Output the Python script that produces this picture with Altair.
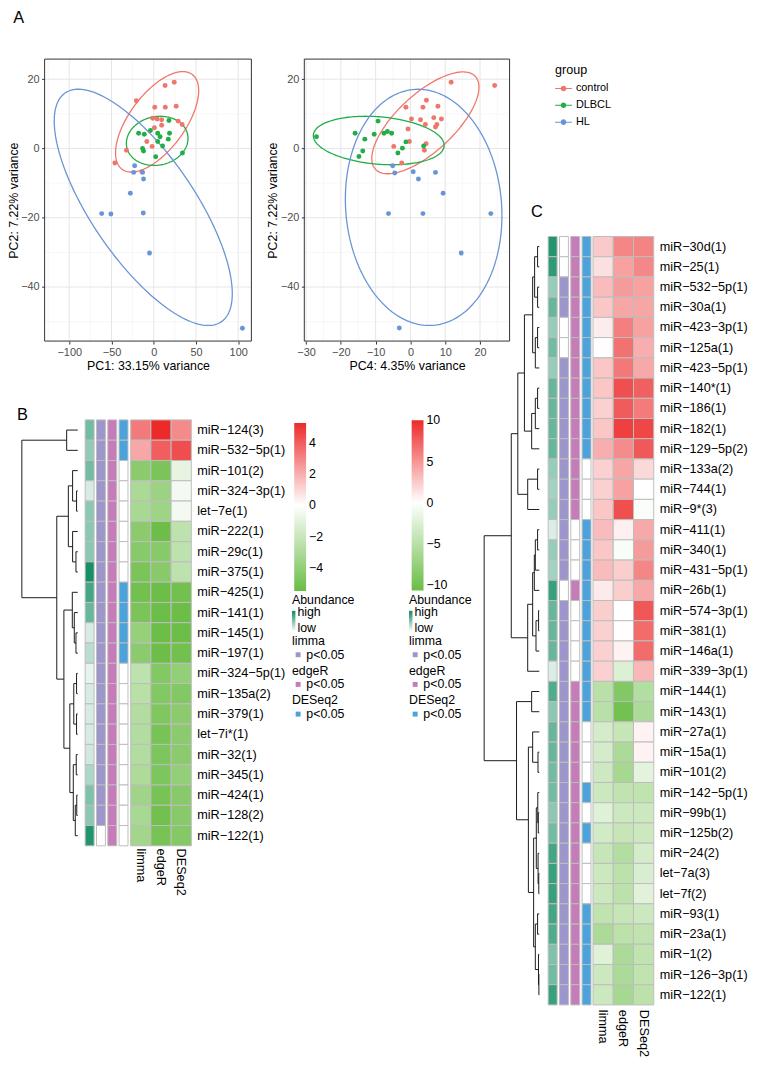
import altair as alt
import numpy as np
import pandas as pd

FONT = "Liberation Sans"
W, H = 750, 1050

# ----------------------------------------------------------------- Panel A data
groups = ["control", "DLBCL", "HL"]
group_colors = ["#F0766C", "#22AE47", "#6B94D6"]

# PC1 / PC2
control_pc1 = [24.3, 13.4, -20.6, 1.2, 13.7, 26.6, -1.2, 4.0, 9.4, 28.9, 33.6, 9.4, 0.8, -8.2, -1.9, -32.3, -46.0, -14.0]
control_pc2 = [19.1, 18.2, 13.8, 11.9, 11.9, 12.2, 8.7, 8.5, 8.3, 7.9, 6.9, 6.7, 6.0, 2.0, 0.6, -0.5, -4.2, -6.7]
dlbcl_pc1 = [18.0, -3.9, -17.9, -11.2, 4.7, 7.5, 18.7, 17.2, 4.7, 10.5, -13.2, -12.1, 34.0, 2.3]
dlbcl_pc2 = [8.1, 5.2, 4.4, 4.1, 4.4, 3.4, 4.4, 2.7, 2.0, 0.7, 0.0, -0.7, -1.3, -2.4]
hl_pc1 = [-22.6, -23.8, -13.2, -12.1, -27.7, -61.6, -50.7, -12.4, -5.0, 105.0]
hl_pc2 = [-5.0, -6.9, -6.9, -8.8, -12.9, -18.8, -18.9, -18.6, -30.2, -51.9]

# PC4 / PC2
control_pc4 = [11.7, 24.2, 4.6, -1.3, 3.6, 7.9, 6.7, 0.3, 2.9, 8.9, 4.3, 7.6, 7.2, -0.7, -0.3, 4.5, -4.8, 4.0, -2.5]
control_pc2b = [19.1, 18.2, 13.9, 11.9, 11.9, 12.2, 8.9, 8.5, 8.3, 8.5, 6.9, 6.9, 6.2, 5.6, 2.0, 1.4, 0.6, -0.5, -4.2]
dlbcl_pc4 = [-27.0, -15.9, -13.1, -13.7, -14.8, -9.3, -10.4, -7.6, -6.6, -5.4, -1.3, -2.3, -3.6, 3.8]
dlbcl_pc2b = [3.4, 4.4, 2.7, -0.7, -2.3, 7.9, 4.1, 4.4, 4.9, 4.4, 1.9, 0.1, -1.3, 0.7]
hl_pc4 = [-5.1, -4.5, 0.8, 2.3, 7.2, 9.4, -6.3, 3.6, 23.1, 14.6, -3.2]
hl_pc2b = [-5.0, -7.1, -6.7, -8.8, -6.9, -12.9, -18.8, -18.8, -18.8, -30.2, -51.8]

# confidence ellipses: centre x, centre y, half-extent x, half-extent y, correlation
ellipse_pc1 = {"control": [4.0, 7.7, 49.2, 14.5, 0.62],
               "DLBCL": [4.1, 2.2, 36.5, 7.1, 0.10],
               "HL": [-12.4, -17.0, 105.4, 34.1, -0.73]}
ellipse_pc4 = {"control": [4.3, 7.4, 15.4, 14.7, 0.70],
               "DLBCL": [-9.1, 2.3, 18.8, 7.0, -0.20],
               "HL": [3.8, -17.0, 22.5, 34.1, -0.07]}

pc1_major = [-100, -50, 0, 50, 100]
pc1_minor = [-125, -75, -25, 25, 75]
pc4_major = [-30, -20, -10, 0, 10, 20]
pc4_minor = [-25, -15, -5, 5, 15, 25]
pc2_major = [-40, -20, 0, 20]
pc2_minor = [-50, -30, -10, 10]

# ----------------------------------------------------------------- Panel B data
B_labels = ["miR−124(3)", "miR−532−5p(1)", "miR−101(2)", "miR−324−3p(1)", "let−7e(1)", "miR−222(1)",
            "miR−29c(1)", "miR−375(1)", "miR−425(1)", "miR−141(1)", "miR−145(1)", "miR−197(1)",
            "miR−324−5p(1)", "miR−135a(2)", "miR−379(1)", "let−7i*(1)", "miR−32(1)", "miR−345(1)",
            "miR−424(1)", "miR−128(2)", "miR−122(1)"]
B_abund = [0.55, 0.42, 0.55, 0.12, 0.45, 0.45, 0.45, 0.95, 0.75, 0.60, 0.12, 0.25, 0.05, 0.12, 0.12,
           0.12, 0.15, 0.30, 0.50, 0.45, 0.90]
B_limma_sig = [1] * 20 + [0]
B_edger_sig = [1] * 21
B_deseq_sig = [1, 1, 0, 0, 0, 0, 0, 0, 1, 1, 1, 1, 0, 0, 0, 0, 0, 0, 0, 0, 0]
B_limma = [3.3, 2.2, -4.3, -3.1, -3.2, -4.3, -4.4, -4.9, -5.2, -4.9, -3.9, -4.3, -2.4, -2.6, -2.8, -2.8,
           -2.8, -3.0, -3.5, -3.2, -3.4]
B_edger = [5.3, 4.0, -4.9, -3.7, -3.6, -5.4, -4.4, -4.4, -5.4, -5.4, -5.4, -5.4, -4.6, -4.6, -4.7, -5.0,
           -4.8, -4.8, -5.0, -5.2, -5.0]
B_deseq = [2.9, 4.4, -0.9, -0.4, -0.4, -2.4, -2.4, -2.4, -5.2, -5.4, -5.4, -5.2, -4.0, -4.6, -4.3, -4.3,
           -4.3, -4.0, -4.4, -4.4, -4.5]
# dendrogram: [merge height, left, right]; leaves are row numbers
B_tree = [56.5,
          [11.2, 0, 1],
          [21.2,
           [9.5, [5.2, 2, [1.2, 3, 4]], [5.2, 5, [1.8, 6, 7]]],
           [14.0,
            [5.5, 8, [3.5, 9, [1.8, 10, 11]]],
            [8.0, [4.0, [1.2, 12, 13], [1.2, 14, 15]],
             [4.5, [1.5, 16, 17], [2.5, [1.0, 18, 19], 20]]]]]]

# ----------------------------------------------------------------- Panel C data
C_labels = ["miR−30d(1)", "miR−25(1)", "miR−532−5p(1)", "miR−30a(1)", "miR−423−3p(1)", "miR−125a(1)",
            "miR−423−5p(1)", "miR−140*(1)", "miR−186(1)", "miR−182(1)", "miR−129−5p(2)", "miR−133a(2)",
            "miR−744(1)", "miR−9*(3)", "miR−411(1)", "miR−340(1)", "miR−431−5p(1)", "miR−26b(1)",
            "miR−574−3p(1)", "miR−381(1)", "miR−146a(1)", "miR−339−3p(1)", "miR−144(1)", "miR−143(1)",
            "miR−27a(1)", "miR−15a(1)", "miR−101(2)", "miR−142−5p(1)", "miR−99b(1)", "miR−125b(2)",
            "miR−24(2)", "let−7a(3)", "let−7f(2)", "miR−93(1)", "miR−23a(1)", "miR−1(2)",
            "miR−126−3p(1)", "miR−122(1)"]
C_abund = [0.90, 0.85, 0.40, 0.60, 0.40, 0.55, 0.40, 0.60, 0.60, 0.60, 0.60, 0.40, 0.35, 0.40, 0.10,
           0.40, 0.35, 0.80, 0.60, 0.60, 0.60, 0.10, 0.70, 0.45, 0.60, 0.60, 0.55, 0.55, 0.45, 0.55,
           0.75, 0.80, 0.80, 0.75, 0.70, 0.50, 0.55, 0.80]
C_limma_sig = [0, 0, 1, 1, 0, 0, 1, 1, 1, 1, 1, 1, 1, 1, 1, 1, 1, 0, 1, 1, 1, 1, 1, 1, 1, 1, 1, 1, 1, 1,
               1, 1, 1, 1, 1, 1, 1, 1]
C_edger_sig = [1, 1, 1, 1, 1, 1, 1, 1, 1, 1, 1, 1, 1, 1, 0, 0, 0, 1, 0, 0, 0, 0, 1, 1, 1, 1, 1, 1, 1, 1,
               1, 1, 1, 1, 1, 1, 1, 1]
C_deseq_sig = [1, 1, 1, 1, 1, 1, 1, 1, 1, 1, 1, 0, 0, 0, 1, 1, 1, 1, 1, 1, 1, 1, 1, 1, 0, 0, 0, 1, 0, 1,
               0, 0, 0, 1, 1, 1, 1, 1]
C_limma = [2.5, 1.5, 3.2, 2.7, 0.9, 0.1, 2.7, 2.7, 2.2, 2.7, 3.8, 2.2, 2.2, 2.7, 3.2, 2.7, 3.2, 1.0,
           2.3, 2.2, 2.2, 2.2, -5.0, -5.0, -3.0, -3.0, -3.5, -3.7, -2.3, -3.2, -4.1, -3.7, -3.7, -4.5,
           -5.9, -2.3, -3.7, -3.7]
C_edger = [5.7, 4.4, 4.7, 4.2, 6.0, 6.7, 6.3, 8.3, 7.7, 9.0, 5.4, 4.2, 4.4, 8.3, 0.7, -0.4, 2.3, 2.3,
           0.0, 0.1, 0.6, -2.5, -8.8, -10.0, -4.1, -5.9, -6.3, -4.5, -3.7, -4.1, -5.4, -4.8, -4.8,
           -4.1, -4.8, -5.9, -5.9, -6.3]
C_deseq = [5.8, 5.6, 4.4, 4.2, 4.4, 3.8, 4.1, 7.5, 6.2, 8.7, 7.8, 1.8, 0.0, -0.3, 4.1, 4.7, 5.7, 4.1,
           7.9, 6.9, 6.9, 3.4, -5.4, -5.9, 0.6, 0.6, -1.9, -4.5, -3.7, -3.7, -3.0, -2.7, -2.1, -3.7,
           -4.5, -4.5, -4.5, -4.8]
C_tree = [55.7,
          [28.3,
           [21.7,
            [15.0,
             [6.7, [4.7, [1.7, 0, 1], [1.7, 2, 3]], [4.0, [1.7, 4, 5], 6]],
             [7.7, [4.0, [1.7, 7, 8], 9], 10]],
            [11.7, [1.7, 11, 12], 13]],
           [11.7,
            [6.7, [5.0, [4.0, [1.7, 14, 15], 16], 17], [3.3, [0.7, 18, 19], 20]],
            21]],
          [23.0,
           [7.7, 22, 23],
           [11.0,
            [6.7, 24, [1.3, 25, 26]],
            [5.7,
             [3.0, [1.5, 27, [1.0, 28, 29]], [1.2, 30, [0.5, 31, 32]]],
             [4.0, [1.7, 33, 34], [0.8, 35, [0.4, 36, 37]]]]]]]

ann_names = ["Abundance", "limma", "edgeR", "DESeq2"]
methods = ["limma", "edgeR", "DESeq2"]
sig_colors = {"limma": "#9C96CD", "edgeR": "#C67CB9", "DESeq2": "#4CA3DC"}
TEAL = ["#F3F8F6", "#0B8A60"]
GREEN, RED = "#6ABD45", "#EC2A2A"
CELL_STROKE = "#BDBDBD"
abund_label_values = [0.15, 0.93]

# ----------------------------------------------------------------- helpers
PC2_DOM = [-55.6, 25.8]
PANEL_Y = [331, 46]


def pts_frame(xs_list, ys_list):
    return pd.concat([pd.DataFrame({"group": g, "x": xs, "y": ys})
                      for g, xs, ys in zip(groups, xs_list, ys_list)], ignore_index=True)


def ellipse_frame(params):
    t = np.linspace(0.0, 2 * np.pi, 181)
    frames = []
    for g in groups:
        cx, cy, sx, sy, rho = params[g]
        frames.append(pd.DataFrame({
            "group": g, "t": np.arange(len(t)),
            "x": cx + sx * np.cos(t),
            "y": cy + sy * (rho * np.cos(t) + np.sqrt(1 - rho ** 2) * np.sin(t))}))
    return pd.concat(frames, ignore_index=True)


def axis_style():
    return dict(grid=False, domain=False, tickSize=3, tickColor="#333333", tickWidth=1,
                labelColor="#4D4D4D", labelFontSize=11, labelFont=FONT, labelPadding=2.5,
                labelFlush=False, titleFont=FONT, titleFontSize=12.5, titleFontWeight="normal",
                titleColor="#000000")


SYM = ("M-1,-0.06L1,-0.06L1,0.06L-1,0.06Z"
       "M0.33,0A0.33,0.33,0,1,1,-0.33,0A0.33,0.33,0,1,1,0.33,0Z")

group_legend = alt.Legend(orient="none", legendX=553, legendY=51, title="group", titleFont=FONT,
                          titleFontSize=12.7, titleFontWeight="normal", titleColor="#000000",
                          titlePadding=3.5, labelFont=FONT, labelFontSize=11, labelColor="#000000",
                          labelOffset=4, symbolType=SYM, symbolSize=289, symbolStrokeWidth=0,
                          symbolOpacity=1, rowPadding=3, padding=0)


def pca_panel(pts, ell, xdom, xrng, xmaj, xmin, xtitle, legend):
    sx = alt.Scale(domain=xdom, range=xrng, nice=False, zero=False)
    sy = alt.Scale(domain=PC2_DOM, range=PANEL_Y, nice=False, zero=False)
    cscale = alt.Scale(domain=groups, range=group_colors)

    def grid(xv, yv):
        rows = [dict(x=v, x2=v, y=PC2_DOM[0], y2=PC2_DOM[1]) for v in xv]
        rows += [dict(x=xdom[0], x2=xdom[1], y=v, y2=v) for v in yv]
        return pd.DataFrame(rows)

    def enc():
        return dict(x=alt.X("x:Q", scale=sx, axis=None), x2="x2:Q",
                    y=alt.Y("y:Q", scale=sy, axis=None), y2="y2:Q")

    g_minor = alt.Chart(grid(xmin, pc2_minor)).mark_rule(color="#F2F2F2", strokeWidth=0.6).encode(**enc())
    g_major = alt.Chart(grid(xmaj, pc2_major)).mark_rule(color="#E6E6E6", strokeWidth=1).encode(**enc())
    ell_layer = alt.Chart(ell).mark_line(strokeWidth=1.3).encode(
        x=alt.X("x:Q", scale=sx, axis=None), y=alt.Y("y:Q", scale=sy, axis=None),
        color=alt.Color("group:N", scale=cscale, legend=None),
        order="t:Q", detail="group:N")
    if legend is None:
        col = alt.Color("group:N", scale=cscale, legend=None)
    else:
        col = alt.Color("group:N", scale=cscale, legend=legend)
    pts_layer = alt.Chart(pts).mark_circle(size=25, opacity=1).encode(
        x=alt.X("x:Q", scale=sx,
                axis=alt.Axis(orient="bottom", offset=PANEL_Y[0] - H, values=xmaj, title=xtitle,
                              titlePadding=2.5, **axis_style())),
        y=alt.Y("y:Q", scale=sy,
                axis=alt.Axis(orient="left", offset=-xrng[0], values=pc2_major,
                              title="PC2: 7.22% variance", titlePadding=0.5, **axis_style())),
        color=col)
    border = alt.Chart(pd.DataFrame([dict(x=xdom[0], x2=xdom[1], y=PC2_DOM[0], y2=PC2_DOM[1])])).mark_rect(
        fillOpacity=0, stroke="#333333", strokeWidth=1).encode(**enc())
    return [g_minor, g_major, ell_layer, pts_layer, border]


def dendro_segments(tree):
    segs = []

    def walk(node):
        if isinstance(node, int):
            return node + 0.5, 0.0
        h, left, right = node
        yl, hl = walk(left)
        yr, hr = walk(right)
        segs.append(dict(x=h, x2=h, y=yl, y2=yr))
        segs.append(dict(x=hl, x2=h, y=yl, y2=yl))
        segs.append(dict(x=hr, x2=h, y=yr, y2=yr))
        return (yl + yr) / 2, h

    walk(tree)
    return pd.DataFrame(segs)


def heatmap(labels, abund, sigs, vals, tree, lay, cdom, cticks):
    n = len(labels)
    r0 = list(range(n))
    r1 = [i + 1 for i in r0]
    ysc = alt.Scale(domain=[0, n], range=[lay["top"], lay["top"] + n * lay["rowh"]], nice=False, zero=False)
    asc = alt.Scale(domain=ann_names, range=lay["ann"], paddingInner=0.21, paddingOuter=0)
    msc = alt.Scale(domain=methods, range=lay["main"], paddingInner=0, paddingOuter=0)
    layers = []

    seg = dendro_segments(tree)
    dsc = alt.Scale(domain=[0, tree[0]], range=[lay["tip"], lay["root"]], nice=False, zero=False)
    layers.append(alt.Chart(seg).mark_rule(color="#1A1A1A", strokeWidth=1).encode(
        x=alt.X("x:Q", scale=dsc, axis=None), x2="x2:Q",
        y=alt.Y("y:Q", scale=ysc, axis=None), y2="y2:Q"))

    lx, ly = lay["leg_x"], lay["leg_y"]
    ab = pd.DataFrame({"col": "Abundance", "r0": r0, "r1": r1, "v": abund})
    layers.append(alt.Chart(ab).mark_rect(stroke=CELL_STROKE, strokeWidth=1).encode(
        x=alt.X("col:N", scale=asc, axis=None),
        y=alt.Y("r0:Q", scale=ysc, axis=None), y2="r1:Q",
        color=alt.Color("v:Q", scale=alt.Scale(domain=[0, 1], range=TEAL, interpolate="rgb"),
                        legend=alt.Legend(orient="none", legendX=lx, legendY=ly, title="Abundance",
                                          titleFont=FONT, titleFontSize=12.5, titleFontWeight="normal",
                                          titleColor="#000000", titlePadding=4.5, direction="vertical",
                                          gradientLength=20, gradientThickness=3.5,
                                          gradientStrokeWidth=0, values=abund_label_values,
                                          labelExpr="datum.value > 0.5 ? 'high' : 'low'",
                                          labelFont=FONT, labelFontSize=12.5, labelColor="#000000",
                                          labelOffset=2, labelOverlap=False, padding=0))))
    for k, (name, sig) in enumerate(zip(methods, sigs)):
        df = pd.DataFrame({"col": name, "r0": r0, "r1": r1,
                           "v": ["p<0.05" if s else "n.s." for s in sig]})
        layers.append(alt.Chart(df).mark_rect(stroke=CELL_STROKE, strokeWidth=1).encode(
            x=alt.X("col:N", scale=asc, axis=None),
            y=alt.Y("r0:Q", scale=ysc, axis=None), y2="r1:Q",
            color=alt.Color("v:N", scale=alt.Scale(domain=["p<0.05", "n.s."],
                                                   range=[sig_colors[name], "#FFFFFF"]),
                            legend=alt.Legend(orient="none", legendX=lx, legendY=ly + 41.6 + 30 * k,
                                              title=name, titleFont=FONT, titleFontSize=12.5,
                                              titleFontWeight="normal", titleColor="#000000",
                                              titlePadding=1, values=["p<0.05"], symbolType="square",
                                              symbolSize=25, symbolStrokeWidth=0, labelFont=FONT,
                                              labelFontSize=12.5, labelColor="#000000", labelOffset=2,
                                              padding=0))))
    rows = []
    for m, vs in zip(methods, vals):
        for i, v in enumerate(vs):
            rows.append(dict(method=m, r0=i, r1=i + 1, v=v))
    main = pd.DataFrame(rows)
    layers.append(alt.Chart(main).mark_rect(stroke=CELL_STROKE, strokeWidth=1).encode(
        x=alt.X("method:N", scale=msc, axis=None),
        y=alt.Y("r0:Q", scale=ysc, axis=None), y2="r1:Q",
        color=alt.Color("v:Q", scale=alt.Scale(domain=[cdom[0], 0, cdom[1]], range=[GREEN, "#FFFFFF", RED],
                                               interpolate="rgb"),
                        legend=alt.Legend(orient="none", legendX=lay["bar_x"], legendY=lay["bar_y"],
                                          title=None, direction="vertical", gradientLength=lay["bar_len"],
                                          gradientThickness=12, gradientStrokeWidth=0, values=cticks,
                                          labelFont=FONT, labelFontSize=12.5, labelColor="#000000",
                                          labelOffset=3, labelOverlap=False, padding=0))))
    lab = pd.DataFrame({"label": labels, "yc": [i + 0.5 for i in r0]})
    layers.append(alt.Chart(lab).mark_text(align="left", baseline="middle", font=FONT, fontSize=12.8,
                                           color="#000000").encode(
        x=alt.value(lay["lab_x"]), y=alt.Y("yc:Q", scale=ysc, axis=None), text="label:N"))
    cl = pd.DataFrame({"method": methods})
    layers.append(alt.Chart(cl).mark_text(align="left", baseline="middle", angle=90, font=FONT,
                                          fontSize=12.8, color="#000000").encode(
        x=alt.X("method:N", scale=msc, axis=None), y=alt.value(lay["col_y"]), text="method:N"))
    return layers


# ----------------------------------------------------------------- assemble
layers = []
layers += pca_panel(pts_frame([control_pc1, dlbcl_pc1, hl_pc1], [control_pc2, dlbcl_pc2, hl_pc2]),
                    ellipse_frame(ellipse_pc1), [-129.2, 115.6], [37, 246], pc1_major, pc1_minor,
                    "PC1: 33.15% variance", group_legend)
layers += pca_panel(pts_frame([control_pc4, dlbcl_pc4, hl_pc4], [control_pc2b, dlbcl_pc2b, hl_pc2b]),
                    ellipse_frame(ellipse_pc4), [-30.5, 28.5], [299.5, 507], pc4_major, pc4_minor,
                    "PC4: 4.35% variance", None)

B_layout = dict(top=410.7, rowh=20.5, ann=[78, 121.3], main=[124, 185.3], tip=70.5, root=14,
                lab_x=191.3, col_y=844, leg_x=287, leg_y=586.7, bar_x=289.3, bar_y=413.7, bar_len=170)
C_layout = dict(top=225.3, rowh=20.44, ann=[546, 589.3], main=[591.3, 652.7], tip=537, root=481.3,
                lab_x=658.7, col_y=1007, leg_x=405.3, leg_y=586.7, bar_x=408, bar_y=411, bar_len=172)

layers += heatmap(B_labels, B_abund, [B_limma_sig, B_edger_sig, B_deseq_sig], [B_limma, B_edger, B_deseq],
                  B_tree, B_layout, [-5.5, 5.3], [-4, -2, 0, 2, 4])
layers += heatmap(C_labels, C_abund, [C_limma_sig, C_edger_sig, C_deseq_sig], [C_limma, C_edger, C_deseq],
                  C_tree, C_layout, [-10.65, 10.02], [-10, -5, 0, 5, 10])

panel_letters = pd.DataFrame({"letter": ["A", "B", "C"]})
for letter, lx, ly in [("A", 5.3, 5), ("B", 9, 405.5), ("C", 528.7, 201)]:
    layers.append(alt.Chart(panel_letters[panel_letters.letter == letter]).mark_text(
        align="left", baseline="middle", font=FONT, fontSize=16.5, color="#000000").encode(
        x=alt.value(lx), y=alt.value(ly), text="letter:N"))

chart = alt.layer(*layers).resolve_scale(
    x="independent", y="independent", color="independent"
).resolve_axis(x="independent", y="independent").resolve_legend(color="independent").properties(
    width=W, height=H, padding=0, autosize=alt.AutoSizeParams(type="none")
).configure(font=FONT).configure_view(stroke="transparent", strokeWidth=0)

chart.save("out.html", embed_options={"renderer": "svg", "actions": False})
